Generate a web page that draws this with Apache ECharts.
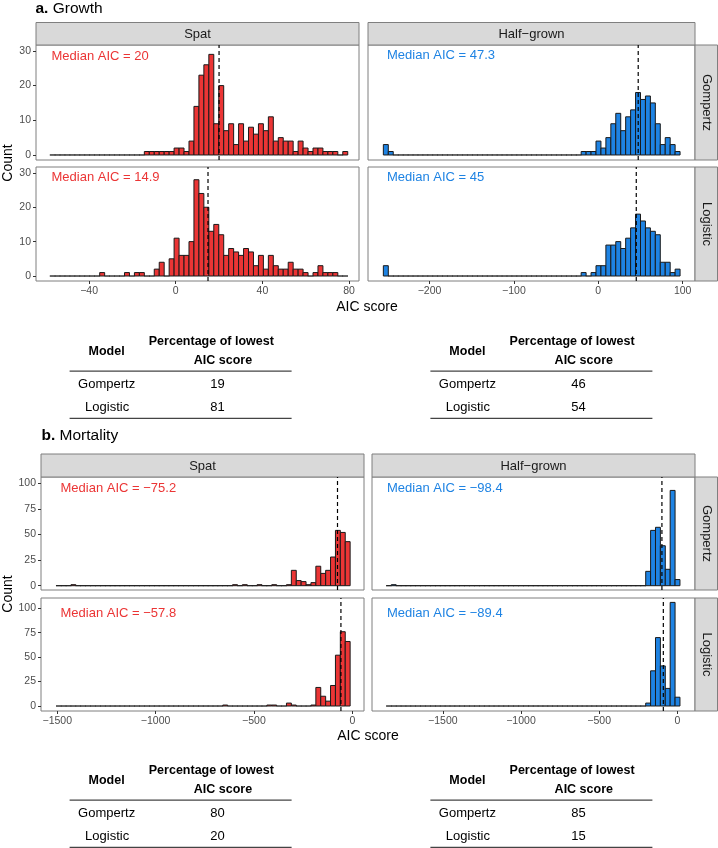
<!DOCTYPE html>
<html><head><meta charset="utf-8">
<script src="https://cdn.jsdelivr.net/npm/echarts@6/dist/echarts.min.js"></script>
<style>html,body{margin:0;padding:0;background:#fff}#c{width:718px;height:848px}</style>
</head><body><div id="c"></div>
<script>
// ================= DATA =================
const groups = ['Spat', 'Half\u2212grown'];
const models = ['Gompertz', 'Logistic'];

// Growth histograms (60 bins each)
const growthSpatBinStart = -58, growthSpatBinWidth = 2.29;
const growthSpatGompertz = [0,0,0,0,0,0,0,0,0,0, 0,0,0,0,0,0,0,0,0,1, 1,1,1,1,1,2,2,1,4,14, 23,26,29,9,20,7,9,3,9,4, 8,6,9,7,11,4,5,4,4,1, 4,2,1,2,2,1,1,1,0,1];
const growthSpatLogistic = [0,0,0,0,0,0,0,0,0,0, 1,0,0,0,0,1,0,1,1,0, 0,2,4,0,5,11,6,6,10,28, 24,20,13,15,12,6,8,7,6,8, 7,3,6,2,6,3,2,2,4,2, 2,1,0,1,3,1,1,1,0,0];
const growthHalfBinStart = -254.7, growthHalfBinWidth = 5.86;
const growthHalfGompertz = [3,1,0,0,0,0,0,0,0,0, 0,0,0,0,0,0,0,0,0,0, 0,0,0,0,0,0,0,0,0,0, 0,0,0,0,0,0,0,0,0,0, 1,1,1,4,2,5,9,12,7,11, 13,18,16,17,15,9,3,5,3,1];
const growthHalfLogistic = [3,0,0,0,0,0,0,0,0,0, 0,0,0,0,0,0,0,0,0,0, 0,0,0,0,0,0,0,0,0,0, 0,0,0,0,0,0,0,0,0,0, 1,0,1,3,3,9,9,10,8,11, 14,18,16,14,13,12,4,4,1,2];
const growthMedians = {spatGompertz: 20, spatLogistic: 14.9, halfGompertz: 47.3, halfLogistic: 45};

// Mortality histograms (60 bins each)
const mortSpatBinStart = -1505, mortSpatBinWidth = 24.9;
const mortSpatGompertz = [0,0,0,1,0,0,0,0,0,0, 0,0,0,0,0,0,0,0,0,0, 0,0,0,0,0,0,0,0,0,0, 0,0,0,0,0,0,1,0,1,0, 0,1,0,0,1,0,0,1,15,5, 4,1,3,19,12,15,28,54,52,43];
const mortSpatLogistic = [0,0,0,0,0,0,0,0,0,0, 0,0,0,0,0,0,0,0,0,0, 0,0,0,0,0,0,0,0,0,0, 0,0,0,0,1,0,0,0,0,0, 0,0,0,1,1,0,0,3,1,0, 0,0,1,19,10,5,21,52,76,66];
const mortHalfBinStart = -1861, mortHalfBinWidth = 31.3;
const mortHalfGompertz = [0,1,0,0,0,0,0,0,0,0, 0,0,0,0,0,0,0,0,0,0, 0,0,0,0,0,0,0,0,0,0, 0,0,0,0,0,0,0,0,0,0, 0,0,0,0,0,0,0,0,0,0, 0,0,0,14,54,57,39,16,93,6];
const mortHalfLogistic = [0,0,0,0,0,0,0,0,0,0, 0,0,0,0,0,0,0,0,0,0, 0,0,0,0,0,0,0,0,0,0, 0,0,0,0,0,0,0,0,0,0, 0,0,0,0,0,0,0,0,0,0, 0,0,0,3,36,70,41,18,106,9];
const mortMedians = {spatGompertz: -75.2, spatLogistic: -57.8, halfGompertz: -98.4, halfLogistic: -89.4};

// Tick labels
const growthSpatTicks = [-40, 0, 40, 80];
const growthHalfTicks = [-200, -100, 0, 100];
const mortTicks = [-1500, -1000, -500, 0];
const growthCountTicks = [0, 10, 20, 30];
const mortCountTicks = [0, 25, 50, 75, 100];

// Tables: percentage of lowest AIC score
const tableHeader = ['Model', 'Percentage of lowest', 'AIC score'];
const growthSpatPct = [19, 81];
const growthHalfPct = [46, 54];
const mortSpatPct = [80, 20];
const mortHalfPct = [85, 15];

// ================= STYLE / LAYOUT =================
const FONT = '"Liberation Sans", Arial, Helvetica, sans-serif';
const RED = '#EB3535', BLUE = '#1E83E3';
const BORDER = '#7F7F7F', STRIP = '#D9D9D9';
const fmt = v => String(v).replace('-', '\u2212');

const panels = [
  {l:36, r:359, t:45, b:160, xMin:-64.5, xMax:84.6, yMin:-1.45, yMax:31.7, xt:growthSpatTicks, yt:growthCountTicks, s:growthSpatBinStart, w:growthSpatBinWidth, c:growthSpatGompertz, col:RED, med:growthMedians.spatGompertz, showX:false, showY:true, lbl:[51.5,56]},
  {l:368, r:695, t:45, b:160, xMin:-272.9, xMax:114.6, yMin:-1.45, yMax:31.7, xt:growthHalfTicks, yt:growthCountTicks, s:growthHalfBinStart, w:growthHalfBinWidth, c:growthHalfGompertz, col:BLUE, med:growthMedians.halfGompertz, showX:false, showY:false, lbl:[387,55.5]},
  {l:36, r:359, t:167, b:281, xMin:-64.5, xMax:84.6, yMin:-1.45, yMax:31.7, xt:growthSpatTicks, yt:growthCountTicks, s:growthSpatBinStart, w:growthSpatBinWidth, c:growthSpatLogistic, col:RED, med:growthMedians.spatLogistic, showX:true, showY:true, lbl:[51.5,177.5]},
  {l:368, r:695, t:167, b:281, xMin:-272.9, xMax:114.6, yMin:-1.45, yMax:31.7, xt:growthHalfTicks, yt:growthCountTicks, s:growthHalfBinStart, w:growthHalfBinWidth, c:growthHalfLogistic, col:BLUE, med:growthMedians.halfLogistic, showX:true, showY:false, lbl:[387,177.5]},
  {l:41, r:364, t:477, b:590, xMin:-1582.6, xMax:59.5, yMin:-4.2, yMax:106.1, xt:mortTicks, yt:mortCountTicks, s:mortSpatBinStart, w:mortSpatBinWidth, c:mortSpatGompertz, col:RED, med:mortMedians.spatGompertz, showX:false, showY:true, lbl:[60.5,488]},
  {l:372, r:695, t:477, b:590, xMin:-1953, xMax:113.2, yMin:-4.2, yMax:106.1, xt:mortTicks, yt:mortCountTicks, s:mortHalfBinStart, w:mortHalfBinWidth, c:mortHalfGompertz, col:BLUE, med:mortMedians.halfGompertz, showX:false, showY:false, lbl:[387,488]},
  {l:41, r:364, t:598, b:711, xMin:-1582.6, xMax:59.5, yMin:-5.1, yMax:110.5, xt:mortTicks, yt:mortCountTicks, s:mortSpatBinStart, w:mortSpatBinWidth, c:mortSpatLogistic, col:RED, med:mortMedians.spatLogistic, showX:true, showY:true, lbl:[60.5,613.5]},
  {l:372, r:695, t:598, b:711, xMin:-1953, xMax:113.2, yMin:-5.1, yMax:110.5, xt:mortTicks, yt:mortCountTicks, s:mortHalfBinStart, w:mortHalfBinWidth, c:mortHalfLogistic, col:BLUE, med:mortMedians.halfLogistic, showX:true, showY:false, lbl:[387,613.5]}
];

const grid = [], xAxis = [], yAxis = [], series = [], graphic = [];

panels.forEach((p, i) => {
  grid.push({left:p.l, top:p.t, width:p.r-p.l, height:p.b-p.t, show:true, borderColor:BORDER, borderWidth:1, backgroundColor:'#fff', containLabel:false, outerBoundsMode:'none'});
  xAxis.push({type:'value', gridIndex:i, min:p.xMin, max:p.xMax, position:'bottom',
    axisLine:{show:false, onZero:false}, splitLine:{show:false},
    axisTick:{show:p.showX, length:3, lineStyle:{color:'#333', width:1}, customValues:p.xt},
    axisLabel:{show:p.showX, customValues:p.xt, formatter:fmt, fontSize:10.5, color:'#4D4D4D', margin:5, fontFamily:FONT}});
  yAxis.push({type:'value', gridIndex:i, min:p.yMin, max:p.yMax, position:'left',
    axisLine:{show:false, onZero:false}, splitLine:{show:false},
    axisTick:{show:p.showY, length:3, lineStyle:{color:'#333', width:1}, customValues:p.yt},
    axisLabel:{show:p.showY, customValues:p.yt, formatter:fmt, fontSize:10.5, color:'#4D4D4D', margin:5, fontFamily:FONT}});
  const data = p.c.map((cnt, k) => [p.s + k*p.w, p.s + (k+1)*p.w, cnt]);
  const color = p.col;
  series.push({type:'custom', xAxisIndex:i, yAxisIndex:i, data, encode:{x:[0,1], y:2}, silent:true, z:2,
    renderItem(params, api){
      const a = api.coord([api.value(0), api.value(2)]);
      const b = api.coord([api.value(1), 0]);
      if (api.value(2) === 0) {
        return {type:'line', shape:{x1:a[0]-0.3, y1:b[1], x2:b[0]+0.3, y2:b[1]}, style:{stroke:'#1a1a1a', lineWidth:1.3}};
      }
      return {type:'rect', shape:{x:a[0], y:a[1], width:b[0]-a[0], height:b[1]-a[1]}, style:{fill:color, stroke:'#1a1a1a', lineWidth:1}};
    }});
  series.push({type:'line', xAxisIndex:i, yAxisIndex:i, data:[[p.med, p.yMin], [p.med, p.yMax]], symbol:'none', silent:true, z:5,
    lineStyle:{color:'#000', width:1.2, type:[4,3]}});
  graphic.push({type:'text', x:p.lbl[0], y:p.lbl[1], silent:true, z:10,
    style:{text:'Median AIC = ' + fmt(p.med), fill:p.col, font:'13px ' + FONT, align:'left', verticalAlign:'middle', textAlign:'left', textVerticalAlign:'middle'}});
});

function txt(text, x, y, size, opts){
  opts = opts || {};
  return {type:'text', x, y, rotation:opts.rot||0, silent:true, z:10,
    style:{text, fill:opts.fill||'#000', font:(opts.bold?'bold ':'') + size + 'px ' + FONT,
      align:opts.align||'center', verticalAlign:'middle', textAlign:opts.align||'center', textVerticalAlign:'middle', rich:opts.rich}};
}
function rect(x, y, w, h, fill, stroke){
  return {type:'rect', silent:true, z:1, shape:{x, y, width:w, height:h}, style:{fill, stroke, lineWidth:1}};
}
function hline(x1, x2, y){
  return {type:'line', silent:true, z:10, shape:{x1, y1:y, x2, y2:y}, style:{stroke:'#444', lineWidth:1.2}};
}

// Facet strips
function strips(colsX, rowsY, stripTop){
  colsX.forEach((c, j) => {
    graphic.push(rect(c[0], stripTop, c[1]-c[0], rowsY[0][0]-stripTop, STRIP, BORDER));
    graphic.push(txt(groups[j], (c[0]+c[1])/2, (stripTop+rowsY[0][0])/2 + 0.5, 13, {fill:'#1A1A1A'}));
  });
  rowsY.forEach((r, j) => {
    graphic.push(rect(695, r[0], 22.5, r[1]-r[0], STRIP, BORDER));
    graphic.push(txt(models[j], 706.5, (r[0]+r[1])/2, 13, {fill:'#1A1A1A', rot:-Math.PI/2}));
  });
}
strips([[36,359],[368,695]], [[45,160],[167,281]], 22.5);
strips([[41,364],[372,695]], [[477,590],[598,711]], 454);

// Titles and axis titles
graphic.push({type:'text', x:35.5, y:8.5, silent:true, style:{text:'{b|a.} Growth', font:'15.5px ' + FONT, fill:'#000', verticalAlign:'middle', textVerticalAlign:'middle',
  rich:{b:{fontWeight:'bold', fontSize:15.5, fontFamily:FONT}}}});
graphic.push({type:'text', x:41.5, y:436, silent:true, style:{text:'{b|b.} Mortality', font:'15.5px ' + FONT, fill:'#000', verticalAlign:'middle', textVerticalAlign:'middle',
  rich:{b:{fontWeight:'bold', fontSize:15.5, fontFamily:FONT}}}});
graphic.push(txt('Count', 8, 163, 14, {rot:Math.PI/2}));
graphic.push(txt('Count', 8, 594, 14, {rot:Math.PI/2}));
graphic.push(txt('AIC score', 367, 307, 14));
graphic.push(txt('AIC score', 368, 736, 14));

// Tables
function table(cx0, top, pct){
  const L = cx0, R = cx0 + 222;
  graphic.push(txt(tableHeader[1], L + 141.7, top, 12.5, {bold:true}));
  graphic.push(txt(tableHeader[0], L + 37, top + 10, 12.5, {bold:true}));
  graphic.push(txt(tableHeader[2], L + 153.4, top + 19, 12.5, {bold:true}));
  graphic.push(hline(L, R, top + 29.5));
  graphic.push(txt(models[0], L + 37, top + 42.6, 13));
  graphic.push(txt(String(pct[0]), L + 148, top + 42.6, 13));
  graphic.push(txt(models[1], L + 37.5, top + 65.3, 13));
  graphic.push(txt(String(pct[1]), L + 148, top + 65.3, 13));
  graphic.push(hline(L, R, top + 76.6));
}
table(69.6, 341.7, growthSpatPct);
table(430.4, 341.7, growthHalfPct);
table(69.6, 770.7, mortSpatPct);
table(430.4, 770.7, mortHalfPct);

const chart = echarts.init(document.getElementById('c'), null, {renderer:'canvas'});
chart.setOption({animation:false, backgroundColor:'#fff', grid, xAxis, yAxis, series, graphic});
</script>
</body></html>
